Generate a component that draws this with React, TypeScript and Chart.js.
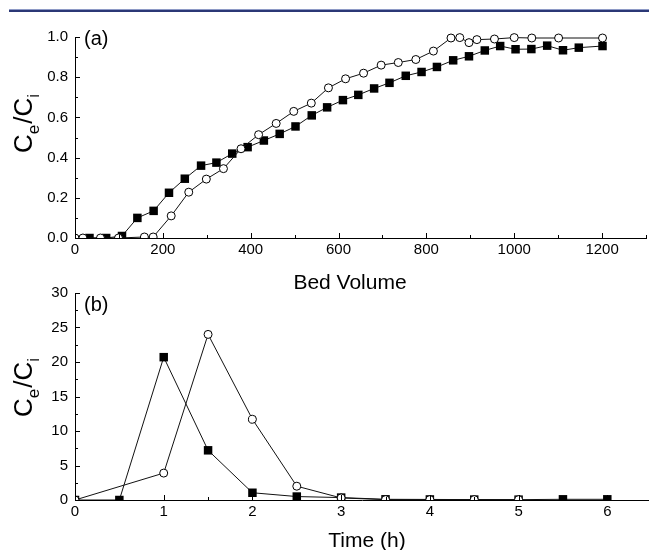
import React, { useEffect, useRef } from "react";
import { Chart, registerables } from "chart.js";

Chart.register(...registerables);

const FONT = "'Liberation Sans', Arial, sans-serif";

// Panel (a): breakthrough curves
const bedVolumeSquares = [33, 71, 107, 142, 179, 214, 250, 287, 322, 358, 393, 430, 466, 502, 539, 574, 610, 645, 681, 716, 753, 789, 824, 861, 897, 933, 968, 1003, 1039, 1075, 1111, 1147, 1201];
const ratioSquares = [0, 0, 0.01, 0.1, 0.135, 0.225, 0.295, 0.36, 0.375, 0.42, 0.452, 0.485, 0.518, 0.555, 0.61, 0.65, 0.686, 0.712, 0.744, 0.772, 0.807, 0.826, 0.851, 0.884, 0.904, 0.933, 0.955, 0.939, 0.94, 0.957, 0.934, 0.947, 0.955];
const bedVolumeCircles = [0, 18, 58, 99, 158, 178, 219, 259, 299, 338, 378, 418, 458, 498, 538, 577, 616, 657, 697, 736, 776, 816, 856, 876, 897, 915, 955, 1000, 1040, 1101, 1201];
const ratioCircles = [0, 0, 0, 0, 0.005, 0.005, 0.11, 0.228, 0.293, 0.345, 0.444, 0.514, 0.57, 0.63, 0.671, 0.747, 0.792, 0.82, 0.86, 0.873, 0.888, 0.93, 0.995, 0.997, 0.972, 0.987, 0.99, 0.997, 0.995, 0.995, 0.995];

// Panel (b): elution curves
const timeSquares = [0, 0.5, 1, 1.5, 2, 2.5, 3, 3.5, 4, 4.5, 5, 5.5, 6];
const pulseSquares = [0, 0, 20.7, 7.2, 1.05, 0.5, 0.35, 0.1, 0.08, 0.06, 0.05, 0.1, 0.1];
const timeCircles = [0, 1, 1.5, 2, 2.5, 3, 3.5, 4, 4.5, 5];
const pulseCircles = [0, 3.9, 24, 11.7, 2.0, 0.3, 0.05, 0.05, 0.05, 0.05];

// Tick labels
const bedTicks = [0, 200, 400, 600, 800, 1000, 1200];
const bedMinorTicks = [100, 300, 500, 700, 900, 1100, 1300];
const ratioTicks = [0, 0.2, 0.4, 0.6, 0.8, 1.0];
const ratioMinorTicks = [0.1, 0.3, 0.5, 0.7, 0.9];
const timeTicks = [0, 1, 2, 3, 4, 5, 6];
const timeMinorTicks = [0.5, 1.5, 2.5, 3.5, 4.5, 5.5];
const pulseTicks = [0, 5, 10, 15, 20, 25, 30];
const pulseMinorTicks = [2.5, 7.5, 12.5, 17.5, 22.5, 27.5];

const toPoints = (xs: number[], ys: number[]) => xs.map((x, i) => ({ x, y: ys[i] }));

const decorPlugin = {
  id: "decor",
  afterDraw(chart: any, _args: any, opts: any) {
    const { ctx, chartArea } = chart;
    const xs = chart.scales.x;
    const ys = chart.scales.y;
    ctx.save();
    ctx.strokeStyle = "#000";
    ctx.lineWidth = 1;
    const tickX = (v: number, len: number) => {
      const p = Math.round(xs.getPixelForValue(v)) + 0.5;
      ctx.beginPath();
      ctx.moveTo(p, chartArea.bottom);
      ctx.lineTo(p, chartArea.bottom - len);
      ctx.stroke();
    };
    const tickY = (v: number, len: number) => {
      const p = Math.round(ys.getPixelForValue(v)) + 0.5;
      ctx.beginPath();
      ctx.moveTo(chartArea.left, p);
      ctx.lineTo(chartArea.left + len, p);
      ctx.stroke();
    };
    opts.majorX.forEach((v: number) => tickX(v, 5));
    opts.minorX.forEach((v: number) => tickX(v, 3));
    opts.majorY.forEach((v: number) => tickY(v, 5));
    opts.minorY.forEach((v: number) => tickY(v, 3));

    ctx.fillStyle = "#000";
    // panel label
    ctx.font = `20px ${FONT}`;
    ctx.textAlign = "left";
    ctx.textBaseline = "alphabetic";
    ctx.fillText(opts.panelLabel, opts.panelX, opts.panelY);

    // x title
    ctx.font = `21px ${FONT}`;
    ctx.textAlign = "center";
    ctx.fillText(opts.xTitle, opts.xTitleX, opts.xTitleY);

    // y title with subscripts
    ctx.translate(opts.yTitleBaseX, opts.yTitleStartY);
    ctx.rotate(-Math.PI / 2);
    ctx.textAlign = "left";
    const segs = [
      { t: "C", sub: false },
      { t: "e", sub: true },
      { t: "/C", sub: false },
      { t: "i", sub: true },
    ];
    let x = 0;
    for (const s of segs) {
      ctx.font = s.sub ? `17px ${FONT}` : `26px ${FONT}`;
      ctx.fillText(s.t, x, s.sub ? 7 : 0);
      x += ctx.measureText(s.t).width + (s.sub ? 1 : 0);
    }
    ctx.restore();
  },
};

function makeDatasets(sqX: number[], sqY: number[], ciX: number[], ciY: number[]) {
  const clip = { left: 0, bottom: 0, top: false, right: false } as any;
  return [
    {
      data: toPoints(ciX, ciY),
      borderColor: "#111",
      borderWidth: 1,
      pointStyle: "circle",
      pointRadius: 4,
      pointBorderWidth: 1,
      pointBackgroundColor: "#fff",
      pointBorderColor: "#000",
      tension: 0,
      clip,
    },
    {
      data: toPoints(sqX, sqY),
      borderColor: "#111",
      borderWidth: 1,
      pointStyle: "rect",
      pointRadius: 6,
      pointBorderWidth: 0,
      pointBackgroundColor: "#000",
      pointBorderColor: "#000",
      tension: 0,
      clip,
    },
  ];
}

function baseOptions(p: {
  xMax: number; yMax: number; xTicks: number[]; yTicks: number[]; yFmt: (v: number) => string;
  padTop: number; padRight: number; xHeight: number; decor: any;
}) {
  return {
    animation: false,
    responsive: false,
    events: [],
    layout: { autoPadding: false, padding: { top: p.padTop, right: p.padRight, left: 0, bottom: 0 } },
    plugins: { legend: { display: false }, tooltip: { enabled: false }, decor: p.decor },
    scales: {
      x: {
        type: "linear",
        min: 0,
        max: p.xMax,
        grid: { display: false, drawTicks: false },
        border: { display: true, color: "#000", width: 1 },
        afterBuildTicks: (s: any) => { s.ticks = p.xTicks.map((v) => ({ value: v })); },
        afterFit: (s: any) => { s.height = p.xHeight; s.paddingLeft = 0; s.paddingRight = 0; },
        ticks: { color: "#000", font: { size: 15, family: FONT }, padding: 3, maxRotation: 0, autoSkip: false, callback: (v: any) => String(v) },
      },
      y: {
        type: "linear",
        min: 0,
        max: p.yMax,
        grid: { display: false, drawTicks: false },
        border: { display: true, color: "#000", width: 1 },
        afterBuildTicks: (s: any) => { s.ticks = p.yTicks.map((v) => ({ value: v })); },
        afterFit: (s: any) => { s.width = 75; },
        ticks: { color: "#000", font: { size: 15, family: FONT }, padding: 7, autoSkip: false, callback: (v: any) => p.yFmt(Number(v)) },
      },
    },
  } as any;
}

function Panel(props: { style: React.CSSProperties; width: number; height: number; config: any }) {
  const ref = useRef<HTMLCanvasElement | null>(null);
  useEffect(() => {
    if (!ref.current) return;
    const chart = new Chart(ref.current, props.config);
    return () => chart.destroy();
  }, []);
  return <canvas ref={ref} width={props.width} height={props.height} style={{ position: "absolute", ...props.style, width: props.width, height: props.height }} />;
}

export default function App() {
  const topConfig = {
    type: "line",
    data: { datasets: makeDatasets(bedVolumeSquares, ratioSquares, bedVolumeCircles, ratioCircles) },
    options: baseOptions({
      xMax: 1300,
      yMax: 1.0,
      xTicks: bedTicks,
      yTicks: ratioTicks,
      yFmt: (v) => v.toFixed(1),
      padTop: 37,
      padRight: 3,
      xHeight: 62,
      decor: {
        majorX: bedTicks, minorX: bedMinorTicks, majorY: ratioTicks, minorY: ratioMinorTicks,
        panelLabel: "(a)", panelX: 84, panelY: 45,
        xTitle: "Bed Volume", xTitleX: 350, xTitleY: 289,
        yTitleBaseX: 32, yTitleStartY: 153,
      },
    }),
    plugins: [decorPlugin],
  };
  const bottomConfig = {
    type: "line",
    data: { datasets: makeDatasets(timeSquares, pulseSquares, timeCircles, pulseCircles) },
    options: baseOptions({
      xMax: 6.47,
      yMax: 30,
      xTicks: timeTicks,
      yTicks: pulseTicks,
      yFmt: (v) => String(v),
      padTop: 23,
      padRight: 0,
      xHeight: 50,
      decor: {
        majorX: timeTicks, minorX: timeMinorTicks, majorY: pulseTicks, minorY: pulseMinorTicks,
        panelLabel: "(b)", panelX: 84, panelY: 41,
        xTitle: "Time (h)", xTitleX: 367, xTitleY: 277,
        yTitleBaseX: 32, yTitleStartY: 147,
      },
    }),
    plugins: [decorPlugin],
  };
  return (
    <div style={{ position: "absolute", left: 0, top: 0, width: 649, height: 550, background: "#fff", overflow: "hidden" }}>
      <div style={{ position: "absolute", left: 9, top: 9, width: 640, height: 1, background: "#8e9ac6" }} />
      <div style={{ position: "absolute", left: 9, top: 10, width: 640, height: 2, background: "#2b3876" }} />
      <Panel style={{ left: 0, top: 0 }} width={649} height={300} config={topConfig} />
      <Panel style={{ left: 0, top: 270 }} width={649} height={280} config={bottomConfig} />
    </div>
  );
}
